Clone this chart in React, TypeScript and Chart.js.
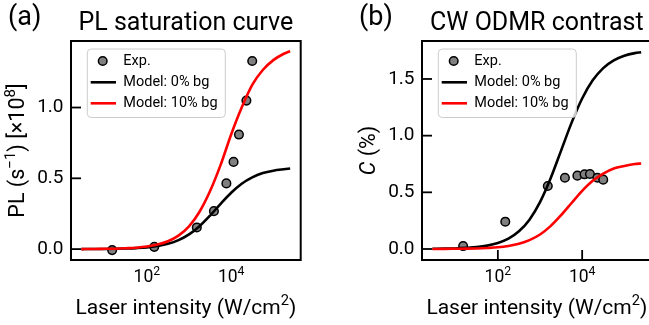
import { useEffect, useRef } from "react";
import { Chart, registerables } from "chart.js";
Chart.register(...registerables);

const FONT = "Roboto";

// Experimental laser intensities (W/cm^2), shared by both panels
const expIntensity = [15, 150, 1530, 3900, 7700, 11400, 15300, 23000, 31600];
// Panel (a): PL (x1e8 s^-1)
const plExp = [-0.007, 0.016, 0.153, 0.268, 0.464, 0.616, 0.809, 1.049, 1.329];
// Panel (b): CW ODMR contrast (%)
const odmrExp = [0.026, 0.241, 0.556, 0.629, 0.647, 0.659, 0.662, 0.629, 0.612];

// Model curves sampled at these intensities
const modelIntensity = [2.8, 5.6, 10, 17.8, 31.6, 56.2, 100, 178, 316, 562, 1000, 1778, 3162, 5623, 10000, 17783, 31623, 56234, 100000, 177828, 251189];
const plModel0 = [0.0, 0.001, 0.001, 0.002, 0.004, 0.007, 0.012, 0.022, 0.037, 0.063, 0.104, 0.162, 0.237, 0.32, 0.398, 0.462, 0.507, 0.537, 0.554, 0.564, 0.569];
const plModel10 = [0.0, 0.001, 0.002, 0.003, 0.006, 0.01, 0.018, 0.032, 0.055, 0.095, 0.161, 0.264, 0.41, 0.595, 0.81, 1.0, 1.16, 1.265, 1.335, 1.38, 1.398];
const odmrModel0 = [0.002, 0.003, 0.005, 0.01, 0.017, 0.03, 0.053, 0.091, 0.156, 0.259, 0.414, 0.622, 0.868, 1.115, 1.328, 1.488, 1.596, 1.664, 1.705, 1.728, 1.736];
const odmrModel10 = [0.0, 0.001, 0.002, 0.003, 0.005, 0.009, 0.015, 0.027, 0.046, 0.078, 0.128, 0.202, 0.298, 0.406, 0.513, 0.602, 0.665, 0.711, 0.733, 0.75, 0.755];

const xTickValues = [100, 10000];
const plYTicks = [0, 0.5, 1.0];
const odmrYTicks = [0, 0.5, 1.0, 1.5];

const legendLabels = ["Exp.", "Model: 0% bg", "Model: 10% bg"];

type Seg = { t: string; sup?: boolean; it?: boolean };

function fontStr(size: number, it?: boolean) {
  return `${it ? "italic " : ""}${size}px ${FONT}`;
}

function drawRich(ctx: CanvasRenderingContext2D, segs: Seg[], x: number, y: number, size: number, align: "center" | "left") {
  const supSize = size * 0.7;
  const widths = segs.map((s) => {
    ctx.font = fontStr(s.sup ? supSize : size, s.it);
    return ctx.measureText(s.t).width;
  });
  const total = widths.reduce((a, b) => a + b, 0);
  let cx = align === "center" ? x - total / 2 : x;
  ctx.textAlign = "left";
  ctx.textBaseline = "alphabetic";
  segs.forEach((s, i) => {
    ctx.font = fontStr(s.sup ? supSize : size, s.it);
    ctx.fillText(s.t, cx, s.sup ? y - size * 0.4 : y);
    cx += widths[i];
  });
}

type Panel = {
  tag: string;
  title: string;
  yLabel: Seg[];
  exp: number[];
  m0: number[];
  m10: number[];
  yMin: number;
  yMax: number;
  yTicks: number[];
  canvasW: number;
  yWidth: number;
  padRight: number;
  xTickMarks: boolean;
};

const panels: Panel[] = [
  {
    tag: "(a)",
    title: "PL saturation curve",
    yLabel: [{ t: "PL (s" }, { t: "\u22121", sup: true }, { t: ") [\u00d710" }, { t: "8", sup: true }, { t: "]" }],
    exp: plExp,
    m0: plModel0,
    m10: plModel10,
    yMin: -0.077,
    yMax: 1.47,
    yTicks: plYTicks,
    canvasW: 325,
    yWidth: 71,
    padRight: 24.3,
    xTickMarks: false,
  },
  {
    tag: "(b)",
    title: "CW ODMR contrast",
    yLabel: [{ t: "C", it: true }, { t: " (%)" }],
    exp: odmrExp,
    m0: odmrModel0,
    m10: odmrModel10,
    yMin: -0.097,
    yMax: 1.835,
    yTicks: odmrYTicks,
    canvasW: 340,
    yWidth: 97,
    padRight: 13.3,
    xTickMarks: true,
  },
];

const H = 325;

function zip(xs: number[], ys: number[]) {
  return xs.map((x, i) => ({ x, y: ys[i] }));
}

function framePlugin(p: Panel) {
  return {
    id: "frame",
    afterDatasetsDraw(chart: any) {
      const ctx: CanvasRenderingContext2D = chart.ctx;
      const a = chart.chartArea;
      const xs = chart.scales.x;
      const ys = chart.scales.y;
      ctx.save();
      // inward ticks
      ctx.strokeStyle = "#000";
      ctx.lineWidth = 1.8;
      ys.ticks.forEach((t: any) => {
        const py = ys.getPixelForValue(t.value);
        ctx.beginPath();
        ctx.moveTo(a.left, py);
        ctx.lineTo(a.left + 10, py);
        ctx.stroke();
      });
      if (p.xTickMarks) {
        xs.ticks.forEach((t: any) => {
          const px = xs.getPixelForValue(t.value);
          ctx.beginPath();
          ctx.moveTo(px, a.bottom);
          ctx.lineTo(px, a.bottom - 10);
          ctx.stroke();
        });
      }
      // spines
      ctx.lineWidth = 2;
      ctx.strokeRect(a.left, a.top, a.right - a.left, a.bottom - a.top);

      // legend
      const bx = a.left + 16.3;
      const by = a.top + 8;
      const bw = 138;
      const bh = 68.5;
      ctx.beginPath();
      ctx.roundRect(bx, by, bw, bh, 4);
      ctx.fillStyle = "rgba(255,255,255,0.8)";
      ctx.fill();
      ctx.strokeStyle = "#cccccc";
      ctx.lineWidth = 1;
      ctx.stroke();
      const rows = [a.top + 20, a.top + 41.3, a.top + 62.3];
      const ds = chart.data.datasets;
      const byLabel = (l: string) => ds.find((d: any) => d.label === l);
      legendLabels.forEach((lab, i) => {
        const d = byLabel(lab);
        const ry = rows[i];
        if (i === 0) {
          ctx.beginPath();
          ctx.arc(a.left + 31.7, ry, d.pointRadius, 0, Math.PI * 2);
          ctx.fillStyle = d.backgroundColor;
          ctx.fill();
          ctx.lineWidth = d.borderWidth;
          ctx.strokeStyle = d.borderColor;
          ctx.stroke();
        } else {
          ctx.beginPath();
          ctx.moveTo(a.left + 19.7, ry);
          ctx.lineTo(a.left + 45, ry);
          ctx.lineWidth = d.borderWidth;
          ctx.strokeStyle = d.borderColor;
          ctx.stroke();
        }
        ctx.fillStyle = "#000";
        ctx.font = fontStr(14.5);
        ctx.textAlign = "left";
        ctx.textBaseline = "middle";
        ctx.fillText(lab, a.left + 52.3, ry + 0.5);
      });
      ctx.restore();
    },
    afterDraw(chart: any) {
      const ctx: CanvasRenderingContext2D = chart.ctx;
      const a = chart.chartArea;
      const xs = chart.scales.x;
      const cxm = (a.left + a.right) / 2;
      const cym = (a.top + a.bottom) / 2;
      ctx.save();
      ctx.fillStyle = "#000";
      // panel tag
      ctx.font = fontStr(27);
      ctx.textAlign = "left";
      ctx.textBaseline = "alphabetic";
      ctx.fillText(p.tag, a.left - 63, 25);
      // title
      ctx.font = fontStr(25);
      ctx.textAlign = "center";
      ctx.fillText(p.title, cxm, 30);
      // x tick labels
      xs.ticks.forEach((t: any) => {
        const px = xs.getPixelForValue(t.value);
        const e = Math.round(Math.log10(t.value));
        drawRich(ctx, [{ t: "10" }, { t: String(e), sup: true }], px, 282, 17.5, "center");
      });
      // x label
      drawRich(ctx, [{ t: "Laser intensity (W/cm" }, { t: "2", sup: true }, { t: ")" }], cxm, 313.5, 21, "center");
      // y label
      ctx.translate(a.left - 47, cym);
      ctx.rotate(-Math.PI / 2);
      drawRich(ctx, p.yLabel, 0, 0, 21.5, "center");
      ctx.restore();
    },
  };
}

function PanelChart({ p, left }: { p: Panel; left: number }) {
  const ref = useRef<HTMLCanvasElement | null>(null);
  useEffect(() => {
    if (!ref.current) return;
    const chart = new Chart(ref.current, {
      type: "scatter",
      data: {
        datasets: [
          {
            label: "Model: 10% bg",
            data: zip(modelIntensity, p.m10),
            showLine: true,
            borderColor: "#ff0000",
            backgroundColor: "#ff0000",
            borderWidth: 2.6,
            pointRadius: 0,
            cubicInterpolationMode: "monotone",
            order: 0,
          },
          {
            label: "Model: 0% bg",
            data: zip(modelIntensity, p.m0),
            showLine: true,
            borderColor: "#000000",
            backgroundColor: "#000000",
            borderWidth: 2.6,
            pointRadius: 0,
            cubicInterpolationMode: "monotone",
            order: 1,
          },
          {
            label: "Exp.",
            data: zip(expIntensity, p.exp),
            showLine: false,
            backgroundColor: "#808080",
            borderColor: "#000000",
            borderWidth: 1.5,
            pointRadius: 4.3,
            order: 2,
          },
        ],
      } as any,
      options: {
        animation: false,
        responsive: false,
        maintainAspectRatio: false,
        events: [],
        layout: { padding: { left: 0, top: 41, right: p.padRight, bottom: 0 } },
        plugins: { legend: { display: false }, tooltip: { enabled: false }, title: { display: false } },
        scales: {
          x: {
            type: "logarithmic",
            min: Math.pow(10, 0.2),
            max: Math.pow(10, 5.65),
            grid: { display: false },
            border: { display: false },
            ticks: { display: false },
            afterBuildTicks: (s: any) => {
              s.ticks = xTickValues.map((v) => ({ value: v }));
            },
            afterFit: (s: any) => {
              s.height = H - 260;
            },
          },
          y: {
            type: "linear",
            min: p.yMin,
            max: p.yMax,
            grid: { display: false, drawTicks: false },
            border: { display: false },
            ticks: {
              padding: 7.5,
              color: "#000",
              font: { family: FONT, size: 19 },
              callback: (v: any) => Number(v).toFixed(1),
            },
            afterBuildTicks: (s: any) => {
              s.ticks = p.yTicks.map((v) => ({ value: v }));
            },
            afterFit: (s: any) => {
              s.width = p.yWidth;
            },
          },
        },
      } as any,
      plugins: [framePlugin(p)],
    });
    return () => chart.destroy();
  }, [p]);
  return (
    <canvas
      ref={ref}
      width={p.canvasW}
      height={H}
      style={{ position: "absolute", left, top: 0, width: p.canvasW, height: H }}
    />
  );
}

export default function App() {
  return (
    <div style={{ position: "fixed", left: 0, top: 0, width: 649, height: H, overflow: "hidden", background: "#fff" }}>
      <PanelChart p={panels[0]} left={0} />
      <PanelChart p={panels[1]} left={325} />
    </div>
  );
}
